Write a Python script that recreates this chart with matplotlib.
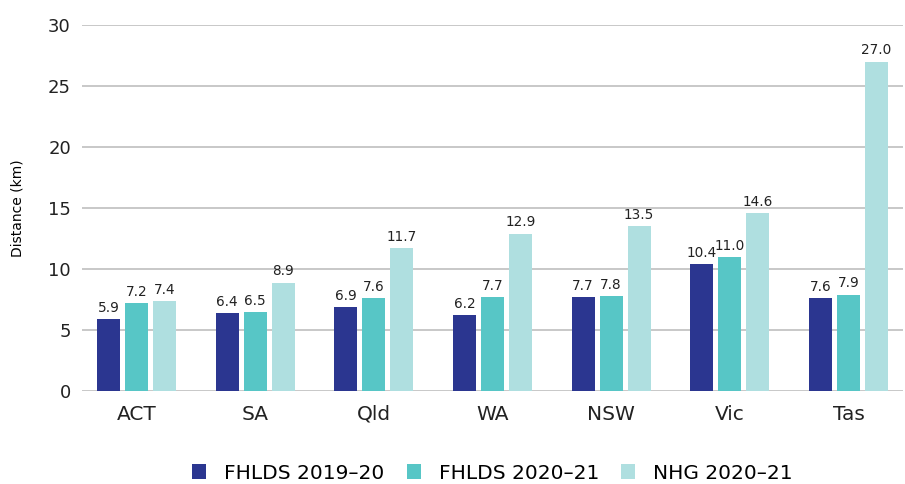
import numpy as np
import matplotlib.pyplot as plt

plt.rcParams['font.family'] = ['DejaVu Sans']

states = ['ACT', 'SA', 'Qld', 'WA', 'NSW', 'Vic', 'Tas']
fhlds_1920 = [5.9, 6.4, 6.9, 6.2, 7.7, 10.4, 7.6]
fhlds_2021 = [7.2, 6.5, 7.6, 7.7, 7.8, 11.0, 7.9]
nhg_2021 = [7.4, 8.9, 11.7, 12.9, 13.5, 14.6, 27.0]
series_names = ['FHLDS 2019\u201320', 'FHLDS 2020\u201321', 'NHG 2020\u201321']
colours = ['#2b3690', '#57c6c6', '#afdfe0']

fig, ax = plt.subplots(figsize=(9.05, 4.84), dpi=100)
fig.subplots_adjust(left=0.0906, right=0.9978, top=0.948, bottom=0.192)

x = np.arange(len(states))
bw = 0.194
step = 0.236
for i, (vals, name, c) in enumerate(zip([fhlds_1920, fhlds_2021, nhg_2021], series_names, colours)):
    pos = x + (i - 1) * step
    ax.bar(pos, vals, bw, color=c, label=name, zorder=2)
    for p, v in zip(pos, vals):
        ax.text(p, v + 0.35, f'{v:.1f}', ha='center', va='bottom', fontsize=9.8, color='#222222')

ax.set_ylim(0, 30)
ax.set_yticks(range(0, 31, 5))
ax.set_xlim(-0.459, 6.459)
ax.set_xticks(x)
ax.set_xticklabels(states, fontsize=14.5)
ax.tick_params(axis='y', labelsize=13, length=0, pad=8, labelcolor='#222222')
ax.tick_params(axis='x', length=0, pad=10, labelcolor='#222222')
ax.grid(axis='y', color='#c4c4c4', linewidth=1.3, zorder=0)
ax.set_axisbelow(True)
for s in ax.spines.values():
    s.set_visible(False)
ax.set_ylabel('Distance (km)', fontsize=10, labelpad=17)

ax.legend(loc='center', bbox_to_anchor=(0.5, -0.224), ncol=3, frameon=False,
          fontsize=14.5, handlelength=0.7, handleheight=0.7, columnspacing=1.1, handletextpad=0.9)

fig.savefig('out.png', dpi=100)
